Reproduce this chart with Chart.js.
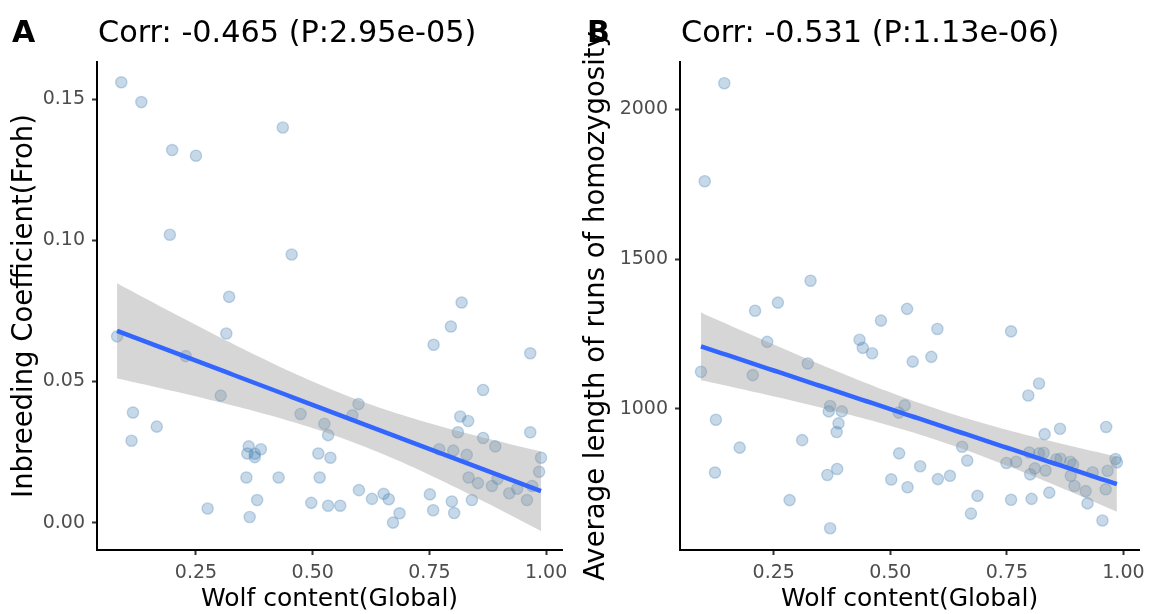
<!DOCTYPE html>
<html>
<head>
<meta charset="utf-8">
<script src="https://cdn.jsdelivr.net/npm/chart.js@4.4.0/dist/chart.umd.min.js"></script>
<style>
  body { margin: 0; background: #fff; }
  #wrap { position: relative; width: 1152px; height: 614px; }
  canvas { position: absolute; top: 0; }
</style>
</head>
<body>
<div id="wrap">
  <canvas id="panelA" width="576" height="614" style="left:0"></canvas>
  <canvas id="panelB" width="576" height="614" style="left:576px"></canvas>
</div>
<script>
// panel A: wolf content vs inbreeding coefficient (Froh)
const wolfA = [0.090,0.133,0.436,0.199,0.250,0.194,0.455,0.321,0.315,0.081,0.228,0.303,0.115,0.166,0.112,
  0.474,0.525,0.533,0.363,0.389,0.360,0.376,0.376,0.512,0.538,0.358,0.427,0.515,0.381,0.275,0.365,0.497,0.533,
  0.819,0.796,0.759,0.966,0.865,0.598,0.585,0.816,0.833,0.811,0.865,0.891,0.966,0.989,0.985,
  0.771,0.801,0.830,0.834,0.854,0.884,0.896,0.921,0.938,0.970,0.959,
  0.559,0.599,0.627,0.652,0.663,0.686,0.672,0.751,0.758,0.798,0.803,0.841];
const frohA = [0.156,0.149,0.140,0.132,0.130,0.102,0.095,0.080,0.067,0.066,0.059,0.045,0.039,0.034,0.029,
  0.0385,0.035,0.031,0.027,0.026,0.0245,0.0244,0.0232,0.0245,0.023,0.016,0.016,0.016,0.008,0.005,0.002,0.007,0.006,
  0.078,0.0695,0.063,0.060,0.047,0.042,0.038,0.0376,0.036,0.032,0.030,0.027,0.032,0.023,0.018,
  0.026,0.0255,0.024,0.016,0.014,0.013,0.0155,0.0104,0.012,0.013,0.008,
  0.006,0.0115,0.0084,0.0102,0.0083,0.0033,0.0,0.010,0.0044,0.0075,0.0034,0.008];

// panel B: wolf content vs average ROH length
const wolfB = [0.144,0.102,0.329,0.259,
  0.210,0.536,0.480,0.236,0.434,0.441,0.461,0.548,0.323,0.094,0.205,0.371,0.368,0.396,0.389,0.385,
  0.531,0.518,0.126,0.311,0.177,0.519,0.124,0.386,0.365,0.502,0.537,0.284,0.371,
  0.601,0.588,0.759,0.819,0.796,0.864,0.831,0.963,0.654,0.665,0.564,0.602,0.628,0.687,0.673,0.749,
  0.770,0.798,0.819,0.829,0.810,0.833,0.800,0.856,0.865,0.886,0.892,0.887,0.895,0.919,0.934,0.966,
  0.983,0.986,0.962,0.759,0.803,0.841,0.923,0.955];
const rohB = [2087,1760,1428,1355,
  1328,1334,1295,1224,1231,1204,1186,1158,1152,1124,1113,1010,992,992,952,923,
  1012,988,964,896,871,852,788,800,780,765,739,696,602,
  1267,1174,1259,1085,1045,934,916,940,874,828,809,766,777,710,651,820,
  824,855,852,854,802,795,782,832,834,824,815,777,743,726,789,794,
  833,822,732,697,700,721,685,628];

const xTicks = [0.25, 0.50, 0.75, 1.00];
const yTicksA = [0.00, 0.05, 0.10, 0.15];
const yTicksB = [1000, 1500, 2000];

const titleA = "Corr: -0.465 (P:2.95e-05)";
const titleB = "Corr: -0.531 (P:1.13e-06)";

const FONT = "'DejaVu Sans', sans-serif";

// least squares line with 95% confidence band (like geom_smooth(method = "lm"))
function lmBand(xs, ys, steps) {
  const n = xs.length;
  const mx = xs.reduce((a, b) => a + b, 0) / n;
  const my = ys.reduce((a, b) => a + b, 0) / n;
  let sxx = 0, sxy = 0;
  for (let i = 0; i < n; i++) {
    sxx += (xs[i] - mx) ** 2;
    sxy += (xs[i] - mx) * (ys[i] - my);
  }
  const b = sxy / sxx, a = my - b * mx;
  let sse = 0;
  for (let i = 0; i < n; i++) sse += (ys[i] - a - b * xs[i]) ** 2;
  const df = n - 2;
  const s = Math.sqrt(sse / df);
  const t = 1.96 + (1.96 ** 3 + 1.96) / (4 * df);
  const lo = Math.min(...xs), hi = Math.max(...xs);
  const fit = [], upper = [], lower = [];
  for (let k = 0; k <= steps; k++) {
    const x = lo + (hi - lo) * k / steps;
    const yh = a + b * x;
    const se = s * Math.sqrt(1 / n + (x - mx) ** 2 / sxx);
    fit.push({x: x, y: yh});
    upper.push({x: x, y: yh + t * se});
    lower.push({x: x, y: yh - t * se});
  }
  return {fit, upper, lower};
}

function makePanel(id, cfg) {
  const band = lmBand(cfg.xs, cfg.ys, 80);
  const pts = cfg.xs.map((x, i) => ({x: x, y: cfg.ys[i]}));

  // panel letter and correlation title above the plot
  const headerPlugin = {
    id: 'header',
    afterDraw(chart) {
      const ctx = chart.ctx;
      ctx.save();
      ctx.fillStyle = '#000';
      ctx.textBaseline = 'alphabetic';
      ctx.font = "bold 30px " + FONT;
      ctx.fillText(cfg.letter, cfg.letterX, 42);
      ctx.font = "30.3px " + FONT;
      ctx.fillText(cfg.title, chart.chartArea.left + 1, 42);
      ctx.restore();
    }
  };

  return new Chart(document.getElementById(id), {
    type: 'scatter',
    data: {
      datasets: [
        {
          type: 'line', data: band.fit, borderColor: '#3366FF', borderWidth: 4.5,
          pointRadius: 0, fill: false, tension: 0
        },
        {
          type: 'line', data: band.upper, borderWidth: 0, borderColor: 'rgba(0,0,0,0)',
          pointRadius: 0, fill: '+1', backgroundColor: 'rgba(153,153,153,0.4)'
        },
        {
          type: 'line', data: band.lower, borderWidth: 0, borderColor: 'rgba(0,0,0,0)',
          pointRadius: 0, fill: false
        },
        {
          data: pts, pointRadius: 5.6, borderWidth: 1.4,
          backgroundColor: 'rgba(70,130,180,0.3)', borderColor: 'rgba(70,130,180,0.32)'
        }
      ]
    },
    options: {
      responsive: false,
      animation: false,
      layout: { padding: { top: 62, right: cfg.padRight, left: 0, bottom: 0 } },
      plugins: { legend: { display: false }, tooltip: { enabled: false } },
      scales: {
        x: {
          type: 'linear', min: cfg.xMin, max: cfg.xMax,
          afterFit: s => { s.height = 64; },
          afterBuildTicks: s => { s.ticks = xTicks.map(v => ({value: v})); },
          border: { display: true, color: '#000', width: 2 },
          grid: { drawOnChartArea: false, drawTicks: true, tickLength: 5, tickColor: '#333', tickWidth: 2 },
          ticks: {
            autoSkip: false, maxRotation: 0, padding: 7, color: '#4D4D4D',
            font: { family: FONT, size: 19 },
            callback: v => v.toFixed(2)
          },
          title: {
            display: true, text: 'Wolf content(Global)', color: '#000',
            font: { family: FONT, size: 25 }, padding: { top: 0, bottom: 0 }
          }
        },
        y: {
          type: 'linear', min: cfg.yMin, max: cfg.yMax,
          afterFit: s => { s.width = cfg.yWidth; },
          afterBuildTicks: s => { s.ticks = cfg.yTicks.map(v => ({value: v})); },
          border: { display: true, color: '#000', width: 2 },
          grid: { drawOnChartArea: false, drawTicks: true, tickLength: 5, tickColor: '#333', tickWidth: 2 },
          ticks: {
            padding: 7, color: '#4D4D4D',
            font: { family: FONT, size: 19 },
            callback: cfg.yFormat
          },
          title: {
            display: true, text: cfg.yTitle, color: '#000',
            font: { family: FONT, size: 27.5 }, padding: { top: cfg.yTitlePad, bottom: 0 }
          }
        }
      }
    },
    plugins: [headerPlugin]
  });
}

makePanel('panelA', {
  xs: wolfA, ys: frohA, letter: 'A', letterX: 12, title: titleA,
  xMin: 0.038, xMax: 1.034, yMin: -0.0097, yMax: 0.1632,
  yTicks: yTicksA, yFormat: v => v.toFixed(2),
  yTitle: 'Inbreeding Coefficient(Froh)', yWidth: 97, yTitlePad: 8.5, padRight: 14
});

makePanel('panelB', {
  xs: wolfB, ys: rohB, letter: 'B', letterX: 11, title: titleB,
  xMin: 0.049, xMax: 1.034, yMin: 529.5, yMax: 2157.8,
  yTicks: yTicksB, yFormat: v => String(v),
  yTitle: 'Average length of runs of homozygosity', yWidth: 104, yTitlePad: 4.5, padRight: 12
});
</script>
</body>
</html>
